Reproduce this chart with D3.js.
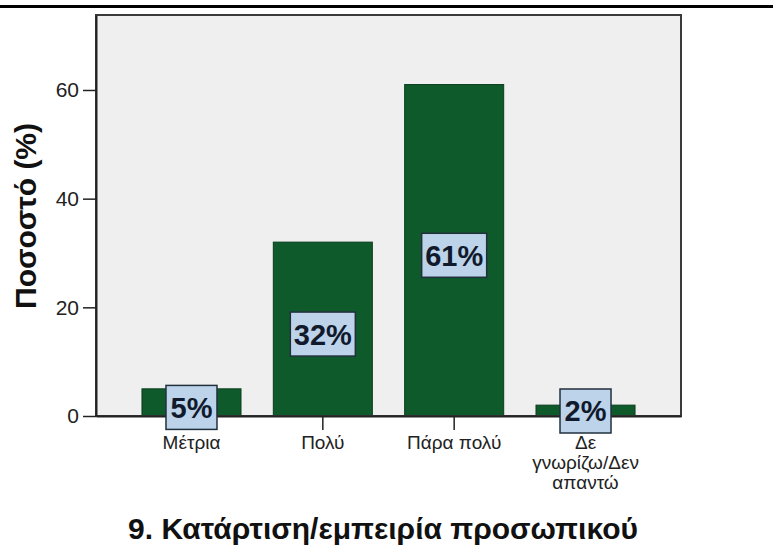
<!DOCTYPE html>
<html>
<head>
<meta charset="utf-8">
<script src="https://cdn.jsdelivr.net/npm/d3@7"></script>
<style>
  html, body { margin: 0; padding: 0; background: #ffffff; }
  svg { display: block; }
  text { font-family: "Liberation Sans", Arial, sans-serif; }
</style>
</head>
<body>
<svg id="chart" width="773" height="549"></svg>
<script>
// Categories (x axis), with line breaks for the wrapped label
const categories = ["Μέτρια", "Πολύ", "Πάρα πολύ", "Δε γνωρίζω/Δεν απαντώ"];
const categoryLines = [["Μέτρια"], ["Πολύ"], ["Πάρα πολύ"], ["Δε", "γνωρίζω/Δεν", "απαντώ"]];
// Percentages per category
const percents = [5, 32, 61, 2];
// Y axis ticks
const yTicks = [0, 20, 40, 60];
const yTitle = "Ποσοστό (%)";
const chartTitle = "9. Κατάρτιση/εμπειρία προσωπικού";

const svg = d3.select("#chart");

const frame = { left: 96, top: 15, right: 681, bottom: 416 };

// Heavy rule across the top
svg.append("rect")
  .attr("x", 0).attr("y", 5).attr("width", 773).attr("height", 3)
  .attr("fill", "#000");

const x = d3.scaleBand()
  .domain(categories)
  .range([frame.left, frame.right])
  .paddingInner(0.246)
  .paddingOuter(0.35);

const y = d3.scaleLinear()
  .domain([0, 73.8])
  .range([frame.bottom, frame.top]);

// Plot area
svg.append("rect")
  .attr("x", frame.left).attr("y", frame.top)
  .attr("width", frame.right - frame.left)
  .attr("height", frame.bottom - frame.top)
  .attr("fill", "#efefef");

// Bars
svg.append("g").selectAll("rect")
  .data(percents)
  .join("rect")
  .attr("x", (d, i) => x(categories[i]))
  .attr("y", d => y(d))
  .attr("width", x.bandwidth())
  .attr("height", d => y(0) - y(d))
  .attr("fill", "#0e5a2b")
  .attr("stroke", "#0a3d1d")
  .attr("stroke-width", 1);

// Frame border
svg.append("rect")
  .attr("x", frame.left).attr("y", frame.top)
  .attr("width", frame.right - frame.left)
  .attr("height", frame.bottom - frame.top)
  .attr("fill", "none")
  .attr("stroke", "#3a3a3a")
  .attr("stroke-width", 2);

// Y axis
const yAxis = svg.append("g")
  .attr("transform", `translate(${frame.left},0)`)
  .call(d3.axisLeft(y).tickValues(yTicks).tickSize(13).tickSizeOuter(0).tickPadding(4).tickFormat(d3.format("d")));
yAxis.select(".domain").attr("stroke", "#222").attr("stroke-width", 2);
yAxis.selectAll(".tick line").attr("stroke", "#222").attr("stroke-width", 1.5);
yAxis.selectAll(".tick text")
  .attr("font-size", 21)
  .attr("font-family", "Liberation Sans, Arial, sans-serif")
  .attr("fill", "#222");

// X axis
const xAxis = svg.append("g")
  .attr("transform", `translate(0,${frame.bottom})`)
  .call(d3.axisBottom(x).tickSize(14).tickSizeOuter(0).tickFormat(""));
xAxis.select(".domain").attr("stroke", "#222").attr("stroke-width", 2);
xAxis.selectAll(".tick line").attr("stroke", "#222").attr("stroke-width", 1.5);

// Category labels (multi-line)
const catLabels = svg.append("g").selectAll("text")
  .data(categoryLines)
  .join("text")
  .attr("text-anchor", "middle")
  .attr("font-size", 19)
  .attr("fill", "#222")
  .attr("transform", (d, i) => `translate(${x(categories[i]) + x.bandwidth() / 2},449)`);
catLabels.selectAll("tspan")
  .data(d => d)
  .join("tspan")
  .attr("x", 0)
  .attr("dy", (d, i) => i === 0 ? 0 : 20)
  .text(d => d);

// Value labels in boxes, kept above the category text for short bars
const labels = svg.append("g").selectAll("g")
  .data(percents)
  .join("g")
  .attr("transform", (d, i) => {
    const cx = x(categories[i]) + x.bandwidth() / 2;
    const cy = Math.min((y(0) + y(d)) / 2 + 5, y(0) - 5);
    return `translate(${cx},${cy})`;
  });
labels.append("rect")
  .attr("x", d => String(d).length > 1 ? -32.5 : -25.5)
  .attr("width", d => String(d).length > 1 ? 65 : 51)
  .attr("y", -22)
  .attr("height", 44)
  .attr("fill", "#bcd3ea")
  .attr("stroke", "#22303e")
  .attr("stroke-width", 1.5);
labels.append("text")
  .attr("text-anchor", "middle")
  .attr("dy", "0.36em")
  .attr("font-size", 29)
  .attr("font-weight", "bold")
  .attr("fill", "#101a2c")
  .text(d => d + "%");

// Y axis title
svg.append("text")
  .attr("transform", "translate(36,216) rotate(-90)")
  .attr("text-anchor", "middle")
  .attr("font-size", 30)
  .attr("font-weight", "bold")
  .attr("fill", "#111")
  .text(yTitle);

// Chart title
svg.append("text")
  .attr("x", 383)
  .attr("y", 539)
  .attr("text-anchor", "middle")
  .attr("font-size", 30)
  .attr("font-weight", "bold")
  .attr("fill", "#111")
  .text(chartTitle);
</script>
</body>
</html>
